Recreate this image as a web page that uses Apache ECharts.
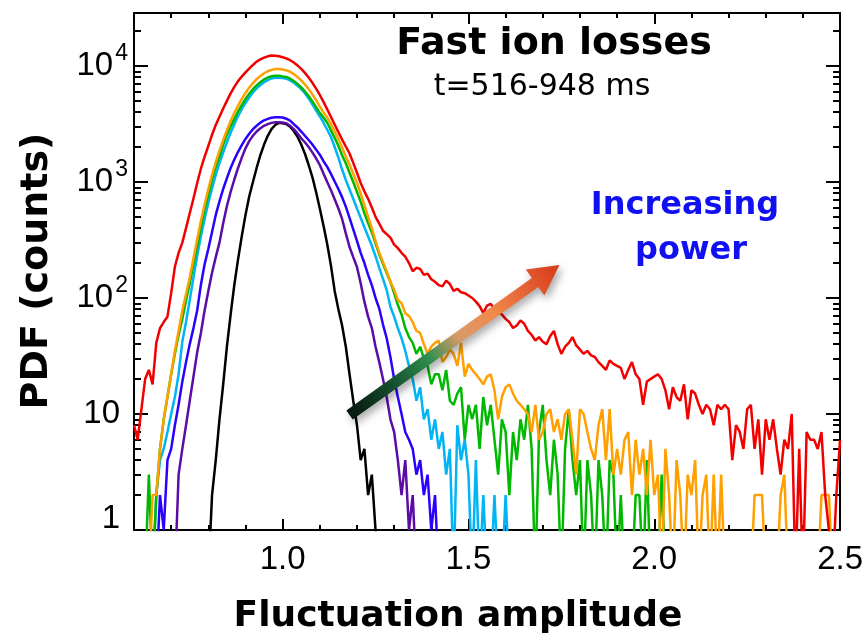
<!DOCTYPE html>
<html>
<head>
<meta charset="utf-8">
<script src="https://cdn.jsdelivr.net/npm/echarts@6/dist/echarts.min.js"></script>
<style>
  html, body { margin: 0; padding: 0; background: #fff; }
  #chart { width: 866px; height: 636px; }
</style>
</head>
<body>
<div id="chart"></div>
<script>
// Histogram bins of the fluctuation amplitude (bin width 0.01); counts per bin.
const binWidth = 0.01;

const blackStart = 0.80;
const blackCounts = [0, 2, 4, 9, 18, 38, 72, 130, 215, 340, 520, 750, 1000, 1320, 1700, 2100, 2500, 2850, 3100, 3230,
  3200, 3150, 3000, 2750, 2450, 2100, 1750, 1400, 1100, 820, 590, 420, 290, 190, 115, 80, 58, 38, 22, 13,
  8, 4, 5, 2, 3, 1, 0];

const purpleStart = 0.71;
const purpleCounts = [0, 3, 5, 8, 13, 21, 34, 50, 78, 115, 165, 225, 300, 440, 620, 820, 1050, 1320, 1620, 1950,
  2250, 2500, 2720, 2900, 3050, 3150, 3230, 3270, 3270, 3250, 3200, 3050, 2850, 2620, 2380, 2200, 2000, 1800, 1600, 1400,
  1180, 1000, 850, 710, 590, 480, 360, 275, 225, 185, 134, 93, 69, 55, 38, 28, 20, 14, 9, 7,
  4, 2, 4, 1, 2, 0];

const blueStart = 0.66;
const blueCounts = [0, 2, 1, 4, 5, 8, 12, 19, 28, 40, 55, 78, 130, 195, 265, 370, 520, 680, 870, 1080,
  1320, 1560, 1820, 2080, 2350, 2600, 2850, 3050, 3250, 3400, 3500, 3580, 3610, 3610, 3590, 3510, 3380, 3150, 2950, 2720,
  2500, 2300, 2100, 1900, 1720, 1510, 1350, 1175, 1010, 870, 740, 612, 490, 390, 310, 245, 200, 158, 129, 100,
  81, 59, 45, 31, 20, 14, 10, 7, 6, 5, 3, 4, 2, 3, 1, 2, 0];

const cyanStart = 0.65;
const cyanCounts = [0, 2, 4, 5, 7, 10, 14, 22, 42, 62, 96, 150, 230, 340, 480, 660, 880, 1150, 1450, 1800,
  2200, 2650, 3150, 3700, 4250, 4800, 5350, 5900, 6400, 6850, 7250, 7550, 7800, 7900, 7900, 7870, 7760, 7500, 7160, 6760,
  6310, 5820, 5250, 4680, 4120, 3670, 3240, 2820, 2450, 2000, 1620, 1280, 1040, 860, 716, 590, 490, 407, 339, 282,
  229, 182, 146, 117, 84, 69, 55, 45, 35, 26, 20, 13, 17, 9, 11, 6, 9, 5, 7, 3,
  5, 0, 8, 4, 6, 3, 0, 4, 0, 2, 0, 0, 2, 0, 0, 2, 0];

const greenStart = 0.63;
const greenCounts = [0, 3, 0, 2, 5, 9, 14, 22, 33, 48, 66, 95, 134, 195, 280, 410, 580, 780, 1050, 1350,
  1660, 2100, 2550, 3000, 3500, 4050, 4600, 5200, 5750, 6300, 6800, 7250, 7650, 7950, 8150, 8250, 8250, 8130, 8040, 7760,
  7410, 7000, 6530, 6030, 5500, 4950, 4420, 3940, 3590, 3240, 2790, 2400, 2040, 1700, 1450, 1200, 1000, 822, 676, 537,
  442, 367, 295, 237, 197, 164, 138, 110, 87, 72, 55, 46, 41, 33, 38, 30, 26, 18, 22, 22,
  16, 24, 13, 12, 15, 17, 6, 12, 9, 12, 5, 14, 8, 12, 6, 3, 9, 7, 2, 7,
  4, 9, 6, 12, 5, 0, 7, 12, 4, 2, 6, 3, 0, 5, 11, 4, 2, 4, 0, 4,
  2, 0, 4, 2, 0, 4, 3, 0, 2, 0, 0, 0, 2, 2, 0, 4, 0, 0, 0, 3, 0];

const orangeStart = 0.64;
const orangeCounts = [0, 2, 2, 5, 9, 14, 22, 35, 52, 78, 108, 150, 220, 320, 460, 640, 870, 1150, 1480, 1850,
  2300, 2800, 3350, 3950, 4550, 5200, 5850, 6500, 7100, 7700, 8200, 8650, 9000, 9250, 9400, 9420, 9330, 9160, 8910, 8510,
  8040, 7500, 6920, 6310, 5690, 5070, 4470, 3980, 3590, 3160, 2720, 2340, 1970, 1660, 1410, 1175, 980, 795, 630, 500,
  400, 310, 245, 204, 170, 138, 118, 96, 90, 74, 70, 62, 52, 50, 40, 33, 38, 41, 43, 28,
  31, 36, 33, 26, 41, 21, 27, 24, 22, 20, 18, 21, 22, 16, 9, 14, 17, 18, 15, 13,
  12, 11, 10, 7, 12, 6, 7, 10, 11, 7, 9, 6, 10, 11, 6, 3, 11, 10, 7, 5,
  4, 8, 11, 4, 11, 3, 5, 3, 6, 7, 2, 6, 3, 5, 2, 6, 2, 3, 0, 5,
  2, 0, 4, 2, 0, 3, 2, 4, 0, 2, 3, 0, 3, 0, 3, 0, 0, 0, 0, 0,
  0, 0, 0, 2, 2, 2, 0, 0, 0, 0, 2, 3, 0, 0, 0, 0, 0, 0, 0, 0,
  0, 2, 2, 2, 0, 0, 0];

const redStart = 0.60;
const redCounts = [8, 6, 11, 20, 24, 18, 41, 55, 62, 69, 110, 186, 245, 300, 400, 537, 720, 980, 1300, 1650,
  2050, 2550, 3100, 3650, 4300, 5000, 5800, 6600, 7400, 8100, 8800, 9500, 10200, 10900, 11400, 11800, 12100, 12300, 12250, 12100,
  11900, 11600, 11200, 10700, 10100, 9440, 8710, 7940, 7160, 6380, 5620, 4900, 4220, 3630, 3130, 2690, 2320, 2020, 1760, 1460,
  1200, 980, 830, 716, 603, 500, 437, 380, 355, 331, 288, 269, 245, 227, 200, 170, 182, 178, 158, 162,
  145, 138, 129, 126, 141, 132, 115, 120, 112, 110, 105, 100, 93, 85, 74, 86, 89, 80, 76, 72,
  66, 62, 55, 58, 64, 60, 52, 48, 43, 46, 42, 40, 47, 52, 40, 33, 38, 41, 46, 39,
  36, 33, 35, 32, 31, 28, 26, 24, 29, 27, 26, 25, 20, 24, 28, 22, 20, 12, 19, 20,
  21, 22, 20, 16, 11, 17, 14, 13, 18, 9, 16, 15, 12, 10, 12, 11, 8, 12, 11, 12,
  11, 4, 8, 7, 5, 11, 12, 5, 9, 3, 9, 6, 9, 5, 3, 6, 5, 10, 0, 5,
  0, 7, 6, 6, 5, 7, 2, 1, 0, 2, 6];

// Empty bins sit below the log axis floor and are clipped at the frame.
const zeroFloor = 0.4;

// Axis ranges and ticks.
const xRange = [0.6, 2.5];
const xMajorTicks = [1.0, 1.5, 2.0, 2.5];
const xMinorTicks = [0.7, 0.8, 0.9, 1.1, 1.2, 1.3, 1.4, 1.6, 1.7, 1.8, 1.9, 2.1, 2.2, 2.3, 2.4];
const yRange = [1, 28600];
const yMajorTicks = [1, 10, 100, 1000, 10000];
const yMinorTicks = [2, 3, 4, 5, 6, 7, 8, 9, 20, 30, 40, 50, 60, 70, 80, 90,
  200, 300, 400, 500, 600, 700, 800, 900, 2000, 3000, 4000, 5000, 6000, 7000, 8000, 9000, 20000];

// Annotation arrow, in data coordinates (amplitude, counts).
const arrowTail = [1.18, 9.8];
const arrowTip = [1.745, 192];

const seriesList = [
  { name: 'P1', color: '#000000', start: blackStart, counts: blackCounts },
  { name: 'P2', color: '#5c0ca6', start: purpleStart, counts: purpleCounts },
  { name: 'P3', color: '#2a00ff', start: blueStart, counts: blueCounts },
  { name: 'P4', color: '#00b4f5', start: cyanStart, counts: cyanCounts },
  { name: 'P5', color: '#00b800', start: greenStart, counts: greenCounts },
  { name: 'P6', color: '#ffa000', start: orangeStart, counts: orangeCounts },
  { name: 'P7', color: '#f20000', start: redStart, counts: redCounts }
];

function toPoints(start, counts) {
  return counts.map((c, i) => [+(start + i * binWidth).toFixed(2), c > 0 ? c : zeroFloor]);
}

const FRAME = '#000';
const tickFont = '"Liberation Sans", Arial, Helvetica, sans-serif';
const titleFont = '"DejaVu Sans", sans-serif';

function xAxisDef(position, ticks, len, withLine, withLabels) {
  return {
    type: 'value', min: xRange[0], max: xRange[1], position: position,
    axisLine: { show: withLine, onZero: false, lineStyle: { color: FRAME, width: 2 } },
    axisTick: { show: true, inside: true, length: len, customValues: ticks, lineStyle: { color: FRAME, width: 2 } },
    axisLabel: withLabels ? {
      show: true, customValues: ticks, margin: 13, color: '#000',
      fontFamily: tickFont, fontSize: 33,
      formatter: v => v.toFixed(1)
    } : { show: false },
    splitLine: { show: false }
  };
}

function yLabel(v) {
  const e = Math.round(Math.log10(v));
  if (e >= 2) return '{b|10}{s|' + e + '}';
  if (e === 0) return '{one|1}';
  return '{p|10}';
}

function yAxisDef(position, ticks, len, withLine, withLabels) {
  return {
    type: 'log', logBase: 10, min: yRange[0], max: yRange[1], position: position,
    axisLine: { show: withLine, onZero: false, lineStyle: { color: FRAME, width: 2 } },
    axisTick: { show: true, inside: true, length: len, customValues: ticks, lineStyle: { color: FRAME, width: 2 } },
    axisLabel: withLabels ? {
      show: true, customValues: ticks, margin: 6, color: '#000',
      fontFamily: tickFont, fontSize: 33,
      formatter: yLabel,
      rich: {
        b: { fontFamily: tickFont, fontSize: 33, lineHeight: 47, color: '#000' },
        s: { fontFamily: tickFont, fontSize: 23, lineHeight: 23, verticalAlign: 'top', padding: [0, 0, 0, 2], color: '#000' },
        p: { fontFamily: tickFont, fontSize: 33, padding: [0, 8, 0, 0], color: '#000' },
        one: { fontFamily: tickFont, fontSize: 33, padding: [0, 8, 22, 0], color: '#000' }
      }
    } : { show: false },
    splitLine: { show: false },
    minorTick: { show: false }
  };
}

const chart = echarts.init(document.getElementById('chart'), null, { renderer: 'canvas' });

chart.setOption({
  animation: false,
  backgroundColor: '#ffffff',
  grid: { left: 134, right: 23, top: 13, bottom: 106, containLabel: false },
  xAxis: [
    xAxisDef('bottom', xMajorTicks, 11, true, true),
    xAxisDef('bottom', xMinorTicks, 5, false, false),
    xAxisDef('top', xMajorTicks, 11, true, false),
    xAxisDef('top', xMinorTicks, 5, false, false)
  ],
  yAxis: [
    yAxisDef('left', yMajorTicks, 14, true, true),
    yAxisDef('left', yMinorTicks, 7, false, false),
    yAxisDef('right', yMajorTicks, 14, true, false),
    yAxisDef('right', yMinorTicks, 7, false, false)
  ],
  series: seriesList.map(s => ({
    name: s.name,
    type: 'line',
    xAxisIndex: 0,
    yAxisIndex: 0,
    data: toPoints(s.start, s.counts),
    symbol: 'none',
    showSymbol: false,
    clip: true,
    lineStyle: { color: s.color, width: 2.5 },
    itemStyle: { color: s.color },
    emphasis: { disabled: true }
  }))
});

// Gradient arrow pointing towards increasing heating power.
function arrowPolygon(tail, tip) {
  const dx = tip[0] - tail[0], dy = tip[1] - tail[1];
  const len = Math.hypot(dx, dy);
  const ux = dx / len, uy = dy / len;
  const nx = -uy, ny = ux;
  const shaftHalf = 5.5, headHalf = 16, headLen = 30;
  const bx = tip[0] - ux * headLen, by = tip[1] - uy * headLen;
  return [
    [tail[0] + nx * shaftHalf, tail[1] + ny * shaftHalf],
    [bx + nx * shaftHalf, by + ny * shaftHalf],
    [bx + nx * headHalf, by + ny * headHalf],
    [tip[0], tip[1]],
    [bx - nx * headHalf, by - ny * headHalf],
    [bx - nx * shaftHalf, by - ny * shaftHalf],
    [tail[0] - nx * shaftHalf, tail[1] - ny * shaftHalf]
  ];
}

const tailPx = chart.convertToPixel({ xAxisIndex: 0, yAxisIndex: 0 }, arrowTail);
const tipPx = chart.convertToPixel({ xAxisIndex: 0, yAxisIndex: 0 }, arrowTip);

function label(text, x, y, font, fill, rotation) {
  return {
    type: 'text', x: x, y: y, rotation: rotation || 0, z: 100,
    style: {
      text: text, font: font, fill: fill,
      align: 'center', verticalAlign: 'middle',
      textAlign: 'center', textVerticalAlign: 'middle'
    }
  };
}

chart.setOption({
  graphic: [
    {
      type: 'polygon', z: 90,
      shape: { points: arrowPolygon(tailPx, tipPx) },
      style: {
        fill: {
          type: 'linear', global: true,
          x: tailPx[0], y: tailPx[1], x2: tipPx[0], y2: tipPx[1],
          colorStops: [
            { offset: 0, color: '#07170e' },
            { offset: 0.2, color: '#154d2c' },
            { offset: 0.38, color: '#2f8f4f' },
            { offset: 0.52, color: '#d99a68' },
            { offset: 0.68, color: '#f08a4c' },
            { offset: 1, color: '#d8381a' }
          ]
        },
        shadowBlur: 8, shadowColor: 'rgba(0,0,0,0.35)', shadowOffsetX: 3, shadowOffsetY: 4
      }
    },
    label('Fast ion losses', 554, 44, 'bold 38px ' + titleFont, '#000'),
    label('t=516-948 ms', 542, 87, '30px ' + titleFont, '#000'),
    label('Increasing', 685, 206, 'bold 32px ' + titleFont, '#1010f0'),
    label('power', 691, 251, 'bold 32px ' + titleFont, '#1010f0'),
    label('Fluctuation amplitude', 458, 617, 'bold 36px ' + titleFont, '#000'),
    label('PDF (counts)', 37, 271, 'bold 38px ' + titleFont, '#000', Math.PI / 2)
  ]
});
</script>
</body>
</html>
